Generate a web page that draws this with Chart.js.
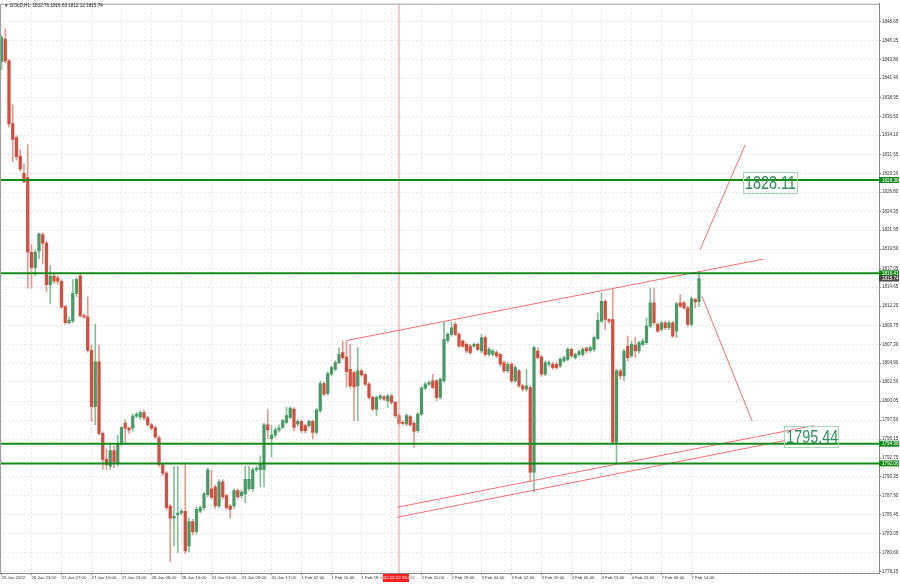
<!DOCTYPE html>
<html><head><meta charset="utf-8">
<script src="https://cdn.jsdelivr.net/npm/chart.js@4.4.1/dist/chart.umd.min.js"></script>
<style>html,body{margin:0;padding:0;background:#fff;}#wrap{width:900px;height:585px;}</style>
</head><body><div id="wrap"><canvas id="c" width="900" height="585"></canvas></div>
<script>
const titleText = "\u25BC GOLD,H1  1812.76 1816.63 1812.12 1815.74";
const opens = [1843.52,1846.40,1843.61,1835.60,1833.78,1831.43,1829.21,1828.68,1819.10,1817.17,
1819.25,1821.37,1820.27,1814.95,1816.06,1815.84,1815.39,1812.16,1810.08,1810.30,
1813.84,1816.06,1811.00,1810.83,1806.53,1799.31,1805.07,1795.90,1792.58,1791.69,
1793.69,1792.14,1794.57,1797.23,1796.57,1796.57,1798.11,1797.98,1798.56,1797.89,
1797.01,1796.65,1795.33,1791.91,1790.81,1786.60,1785.05,1785.49,1785.71,1785.93,
1781.50,1784.61,1783.36,1785.93,1786.38,1788.06,1788.81,1789.04,1786.60,1789.70,
1787.93,1786.60,1786.60,1788.59,1787.93,1788.15,1788.81,1788.81,1791.25,1791.25,
1791.25,1797.01,1795.24,1795.68,1796.35,1796.68,1797.32,1797.96,1799.02,1797.11,
1797.45,1796.89,1796.89,1797.45,1796.04,1798.81,1802.29,1801.02,1803.48,1804.12,
1804.97,1806.24,1805.69,1804.12,1803.69,1801.99,1803.91,1803.40,1802.21,1800.51,
1799.02,1800.42,1800.59,1800.08,1800.72,1799.87,1798.17,1797.32,1797.11,1798.04,
1797.19,1796.26,1798.38,1801.70,1802.21,1802.63,1802.63,1800.51,1802.63,1807.82,
1808.58,1809.86,1808.58,1807.73,1807.31,1807.09,1807.09,1807.31,1806.46,1808.16,
1806.03,1806.03,1806.24,1806.03,1804.97,1803.91,1804.76,1802.63,1803.91,1801.99,
1801.57,1801.78,1790.94,1806.46,1805.69,1803.48,1804.76,1804.76,1804.76,1804.54,
1805.18,1805.39,1806.67,1805.61,1806.03,1806.03,1806.80,1806.54,1806.67,1808.07,
1810.28,1812.83,1810.49,1810.49,1794.77,1803.91,1803.27,1807.09,1805.82,1807.22,
1806.46,1807.31,1807.52,1809.64,1812.62,1809.86,1809.22,1810.07,1809.43,1810.07,
1809.01,1812.62,1812.62,1811.98,1809.86,1813.04,1812.76];
const highs = [1846.85,1847.73,1843.80,1837.99,1834.00,1832.23,1830.46,1832.89,1820.05,1819.40,
1821.60,1821.60,1820.50,1817.39,1816.30,1816.06,1815.60,1812.30,1810.80,1815.60,
1815.84,1816.28,1811.20,1813.40,1807.20,1809.86,1807.20,1796.10,1793.91,1794.57,
1794.30,1795.68,1796.79,1797.67,1796.70,1798.40,1798.60,1798.80,1798.90,1798.10,
1797.20,1796.80,1795.60,1792.10,1791.00,1786.80,1791.69,1791.69,1786.20,1792.14,
1785.05,1784.90,1786.50,1786.60,1788.40,1791.47,1791.20,1789.30,1790.00,1790.00,
1788.10,1786.80,1788.80,1788.80,1788.60,1791.69,1791.69,1791.50,1791.70,1793.02,
1797.23,1799.00,1796.89,1796.60,1797.00,1797.70,1799.23,1799.30,1799.20,1797.70,
1797.60,1797.10,1797.60,1797.60,1799.10,1802.63,1802.50,1803.80,1804.50,1805.20,
1806.88,1807.73,1807.73,1807.31,1803.90,1806.88,1804.10,1803.60,1802.40,1800.70,
1800.70,1800.90,1800.80,1800.90,1800.90,1800.00,1798.40,1797.50,1798.40,1798.20,
1797.40,1798.60,1801.90,1802.40,1802.60,1803.48,1802.80,1803.00,1810.15,1808.80,
1810.15,1810.15,1808.80,1807.90,1807.50,1807.30,1807.50,1807.50,1808.58,1808.40,
1806.90,1806.70,1806.50,1806.20,1805.20,1805.00,1805.00,1804.60,1804.10,1802.20,
1804.12,1802.00,1807.09,1806.90,1805.90,1805.20,1805.20,1805.00,1805.00,1805.60,
1805.80,1806.90,1806.90,1806.20,1806.60,1806.90,1807.00,1807.10,1808.40,1811.34,
1813.89,1813.00,1810.60,1814.32,1804.10,1804.10,1806.70,1808.37,1807.73,1808.16,
1807.70,1808.00,1810.70,1814.53,1814.53,1810.10,1810.30,1810.30,1810.30,1810.30,
1812.70,1813.68,1812.80,1812.20,1813.40,1813.20,1816.63];
const lows = [1842.42,1843.40,1835.11,1830.68,1830.90,1829.50,1828.02,1814.51,1814.51,1816.06,
1818.27,1817.61,1814.07,1812.51,1815.10,1815.00,1811.90,1809.90,1809.90,1810.10,
1813.40,1810.80,1810.60,1806.31,1797.45,1797.01,1795.68,1791.25,1791.25,1791.30,
1791.50,1791.69,1794.30,1794.57,1795.90,1796.20,1797.90,1797.70,1797.60,1796.80,
1796.30,1795.20,1791.60,1790.50,1786.10,1779.51,1781.50,1780.62,1785.50,1780.50,
1780.70,1782.90,1783.00,1785.70,1786.10,1787.80,1787.50,1786.30,1786.40,1787.50,
1786.10,1785.05,1786.30,1787.50,1787.60,1787.04,1788.60,1788.50,1791.00,1789.04,
1789.04,1795.24,1792.86,1795.40,1796.10,1796.50,1797.10,1797.80,1796.26,1796.90,
1796.00,1796.00,1796.70,1795.19,1795.80,1798.60,1800.70,1800.80,1803.30,1803.90,
1804.80,1805.40,1801.78,1801.70,1797.53,1797.53,1803.20,1802.00,1800.30,1798.80,
1798.17,1800.20,1800.10,1799.23,1799.60,1797.90,1797.00,1797.00,1796.90,1796.80,
1794.13,1796.00,1798.20,1801.50,1802.00,1801.60,1800.08,1800.30,1802.40,1807.60,
1808.40,1808.40,1806.90,1806.90,1806.20,1806.00,1806.90,1806.50,1806.20,1805.80,
1805.80,1805.80,1805.60,1804.50,1803.70,1803.70,1802.40,1802.40,1801.80,1801.30,
1801.30,1789.67,1788.39,1805.40,1803.20,1803.30,1804.50,1804.10,1804.10,1804.30,
1805.00,1805.20,1805.60,1805.40,1805.80,1805.80,1806.20,1806.30,1806.40,1807.90,
1810.10,1809.22,1810.00,1794.60,1792.01,1802.84,1802.63,1805.18,1805.60,1805.61,
1806.20,1807.10,1807.30,1809.40,1809.80,1808.80,1809.00,1809.20,1809.20,1808.20,
1808.16,1812.00,1811.80,1809.60,1809.60,1811.98,1812.12];
const closes = [1846.63,1843.61,1835.55,1833.56,1831.34,1829.79,1828.11,1819.10,1817.17,1819.10,
1821.46,1820.27,1814.95,1816.06,1815.39,1815.39,1812.07,1810.08,1810.39,1813.84,
1815.62,1810.96,1810.83,1806.53,1799.31,1805.07,1795.90,1792.58,1791.91,1793.69,
1792.22,1794.57,1796.65,1796.57,1796.35,1798.11,1798.34,1798.56,1797.89,1797.01,
1796.57,1795.46,1791.91,1790.81,1786.38,1785.05,1785.27,1785.71,1785.93,1780.84,
1784.61,1783.28,1786.16,1786.38,1788.15,1791.25,1787.71,1786.60,1789.70,1787.79,
1786.38,1786.16,1788.59,1787.79,1788.37,1790.01,1790.01,1791.25,1791.47,1792.05,
1797.01,1796.35,1795.68,1796.35,1796.57,1797.53,1798.17,1799.15,1796.68,1797.45,
1796.26,1796.26,1797.45,1796.04,1798.89,1802.29,1800.93,1803.57,1804.33,1804.97,
1806.03,1805.61,1803.82,1801.99,1801.87,1803.91,1803.40,1802.21,1800.51,1799.02,
1800.51,1800.72,1800.29,1800.72,1799.87,1798.17,1797.19,1797.19,1798.17,1797.02,
1796.17,1798.38,1801.70,1802.21,1802.42,1801.78,1800.51,1802.84,1807.94,1808.58,
1809.43,1808.58,1807.09,1807.09,1806.46,1806.24,1807.31,1806.67,1808.16,1806.03,
1806.67,1806.46,1805.82,1804.76,1803.91,1804.76,1802.63,1804.33,1801.99,1801.57,
1801.99,1790.94,1806.88,1805.61,1803.48,1804.97,1804.97,1804.33,1804.33,1805.39,
1805.61,1806.67,1805.82,1806.03,1806.37,1806.67,1806.46,1806.88,1808.16,1810.37,
1812.83,1810.49,1810.28,1794.77,1803.91,1803.27,1806.46,1805.61,1807.31,1806.46,
1807.52,1807.73,1809.64,1812.62,1810.07,1809.01,1810.07,1809.43,1810.07,1808.37,
1812.49,1812.19,1811.98,1809.86,1813.17,1812.75,1815.74];
const xTickLabels = ["26 Jan 2022","26 Jan 23:00","27 Jan 07:00","27 Jan 15:00","27 Jan 23:00","28 Jan 08:00",
"28 Jan 16:00","31 Jan 01:00","31 Jan 09:00","31 Jan 17:00","1 Feb 02:00","1 Feb 10:00","1 Feb 18:00",
"2 Feb 03:00","2 Feb 11:00","2 Feb 19:00","3 Feb 04:00","3 Feb 12:00","3 Feb 20:00","4 Feb 05:00",
"4 Feb 13:00","4 Feb 21:00","7 Feb 06:00","7 Feb 14:00"];
const yTickValues = [1848.65,1846.25,1843.80,1841.40,1838.95,1836.50,1834.10,1831.65,1829.20,1826.80,
1824.35,1821.95,1819.50,1817.05,1814.65,1812.20,1809.75,1807.30,1804.90,1802.50,1800.05,1797.60,
1795.15,1792.75,1790.35,1787.90,1785.45,1783.05,1780.60,1778.15];
const hLevels = [1828.36, 1816.41, 1794.58, 1792.06];
const lastPrice = 1815.74;
const cursorIndex = 106;
const cursorLabel = "2022.02.02 05:00";
const upperChannel = [{x:92, y:1807.80},{x:203.1, y:1818.22}];
const lowerChannelA = [{x:105.5, y:1786.44},{x:216.5, y:1796.89}];
const lowerChannelB = [{x:105.5, y:1785.16},{x:208.9, y:1794.98}];
const upArrow = [{x:186.3, y:1819.46},{x:198.3, y:1832.84}];
const downArrow = [{x:186.8, y:1813.46},{x:200.2, y:1797.44}];
const textLabels = [{x:197.7, y:1827.93, text:"1828.11"},{x:208.7, y:1795.42, text:"1795.44"}];

const BULL = '#4a9a68', BEAR = '#d24f3f', BULLW = '#86c09a', BEARW = '#e39a90';
const isBull = opens.map((o,i)=>closes[i] >= o);
const wickData = highs.map((h,i)=>({x:i, y:[lows[i], h]}));
const bodyData = opens.map((o,i)=>({x:i, y:[o, closes[i]]}));

function lineDs(pts, color, width, order){
  return {type:'line', data:pts, borderColor:color, borderWidth:width, pointRadius:0, fill:false, order:order, tension:0};
}
const datasets = [
  {type:'bar', data:bodyData, backgroundColor:isBull.map(b=>b?BULL:BEAR), barThickness:2.6, grouped:false, minBarLength:1, borderWidth:0, order:2},
  {type:'bar', data:wickData, backgroundColor:isBull.map(b=>b?BULLW:BEARW), barThickness:1, grouped:false, borderWidth:0, order:3},
];
hLevels.forEach(v=>datasets.push(lineDs([{x:-5,y:v},{x:300,y:v}], '#168a1c', 2, 0)));
datasets.push(lineDs([{x:cursorIndex,y:1700},{x:cursorIndex,y:1900}], '#ff8a8a', 1, 1));
[upperChannel, lowerChannelA, lowerChannelB, upArrow, downArrow].forEach(p=>datasets.push(lineDs(p, '#ff6f6f', 1, 0)));

const decor = {
  id:'decor',
  afterDraw(chart){
    const {ctx, chartArea:a, scales:{x, y}} = chart;
    ctx.save();
    ctx.strokeStyle='#a0a0a0'; ctx.lineWidth=1;
    ctx.beginPath(); ctx.moveTo(a.left+0.5, a.bottom); ctx.lineTo(a.left+0.5, a.top+0.5); ctx.lineTo(a.right, a.top+0.5); ctx.stroke();
    ctx.fillStyle='#222'; ctx.font='4.6px "Liberation Sans", "DejaVu Sans"'; ctx.textBaseline='middle'; ctx.textAlign='left';
    ctx.fillText(titleText, 4, 6);
    // price boxes on axis
    const box = (v, fill) => {
      const py = y.getPixelForValue(v);
      ctx.fillStyle = fill; ctx.fillRect(a.right, py-3, 20, 6);
      ctx.fillStyle = '#fff'; ctx.font='4.6px "Liberation Sans"'; ctx.textAlign='left'; ctx.textBaseline='middle';
      ctx.fillText(v.toFixed(2), a.right+3, py+0.3);
    };
    hLevels.forEach(v=>box(v, '#168a1c'));
    box(lastPrice, '#4a4a4a');
    // cursor time box
    const vx = x.getPixelForValue(cursorIndex);
    ctx.fillStyle='#ff1f1f'; ctx.fillRect(vx-16, a.bottom+1, 26, 8);
    ctx.fillStyle='#fff'; ctx.font='4.4px "Liberation Sans"'; ctx.textAlign='center';
    ctx.fillText(cursorLabel, vx-3, a.bottom+5);
    // text annotations
    textLabels.forEach(t=>{
      const px = x.getPixelForValue(t.x), py = y.getPixelForValue(t.y);
      ctx.strokeStyle='#a9d6b8'; ctx.lineWidth=1;
      ctx.strokeRect(Math.round(px)+0.5, Math.round(py)-10.5, 54, 21);
      ctx.save();
      ctx.translate(px+2, py+1);
      ctx.scale(0.8, 1);
      ctx.fillStyle='#2f8f5a'; ctx.font='18px "Liberation Sans"'; ctx.textAlign='left'; ctx.textBaseline='middle';
      ctx.fillText(t.text, 0, 0);
      ctx.restore();
    });
    ctx.restore();
  }
};

Chart.defaults.font.family = '"Liberation Sans", "DejaVu Sans", sans-serif';
new Chart(document.getElementById('c'), {
  type:'bar',
  data:{datasets},
  options:{
    responsive:false, animation:false, events:[],
    layout:{padding:{top:1, left:0, right:0, bottom:0}},
    plugins:{legend:{display:false}, tooltip:{enabled:false}},
    scales:{
      x:{type:'linear', min:-0.4, max:234, offset:false,
        afterBuildTicks:s=>{ s.ticks = xTickLabels.map((_,k)=>({value:k*8})); },
        afterFit:s=>{ s.height = 12; },
        ticks:{autoSkip:false, maxRotation:0, minRotation:0, align:'start', padding:0, color:'#333', font:{size:4.3},
          callback:(v,i)=>xTickLabels[i]},
        grid:{offset:false, color:'#e6e6e6', tickColor:'#888', tickLength:2, drawOnChartArea:true},
        border:{display:true, color:'#888', dash:[2,2]}
      },
      y:{type:'linear', position:'right', min:1778.02, max:1850.94,
        afterBuildTicks:s=>{ s.ticks = yTickValues.map(v=>({value:v})); },
        afterFit:s=>{ s.width = 21; },
        ticks:{autoSkip:false, padding:1, color:'#333', font:{size:4.5}, callback:v=>v.toFixed(2)},
        grid:{color:'#e6e6e6', tickColor:'#888', tickLength:2},
        border:{display:true, color:'#888', dash:[2,2]}
      }
    }
  },
  plugins:[decor]
});
</script></body></html>
